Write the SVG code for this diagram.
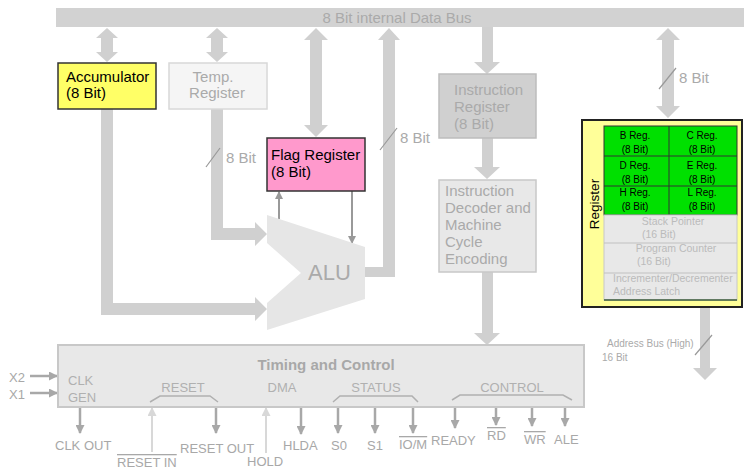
<svg xmlns="http://www.w3.org/2000/svg" width="744" height="471" viewBox="0 0 744 471">
<style>
text{font-family:"Liberation Sans",Arial,sans-serif}
.fat{fill:#d0d0d0}
.lbl{fill:#aaaaaa;font-size:15px}
.blk{fill:#000;font-size:15px}
.in{fill:#b0b0b0;font-size:13px}
.out{fill:#a8a8a8;font-size:13px}
.cell{fill:#000;font-size:10px;text-anchor:middle}
.gcell{fill:#bbbbbb;font-size:10.5px}
.sl{stroke:#999;stroke-width:1.2}
.oa{stroke:#a8a8a8;stroke-width:2.5;fill:none;marker-end:url(#ah)}
.ia{stroke:#d8d8d8;stroke-width:2;fill:none;marker-end:url(#ahl)}
.br{stroke:#b0b0b0;stroke-width:1.5;fill:none}
</style>
<defs>
<marker id="ah" markerUnits="userSpaceOnUse" markerWidth="9" markerHeight="9" refX="8" refY="4.5" orient="auto"><path d="M0,0 L9,4.5 L0,9 z" fill="#a8a8a8"/></marker>
<marker id="ahl" markerUnits="userSpaceOnUse" markerWidth="9" markerHeight="9" refX="8" refY="4.5" orient="auto"><path d="M0,0 L9,4.5 L0,9 z" fill="#d8d8d8"/></marker>
<marker id="ahf" markerUnits="userSpaceOnUse" markerWidth="8" markerHeight="8" refX="7" refY="4" orient="auto"><path d="M0,0 L8,4 L0,8 z" fill="#999"/></marker>
</defs>
<rect width="744" height="471" fill="#fff"/>

<g id="databus">
<rect x="56" y="8" width="688" height="19" fill="#d2d2d2"/>
<text x="397" y="23" class="lbl" text-anchor="middle" fill="#bcbcbc">8 Bit internal Data Bus</text>
</g>

<g id="connectors">
<polygon class="fat" points="107,28 118,38 113,38 113,52 118,52 107,62 96,52 101,52 101,38 96,38"/>
<polygon class="fat" points="217,28 228,38 223,38 223,52 228,52 217,62 206,52 211,52 211,38 206,38"/>
<polygon class="fat" points="316,28 328,40 322,40 322,125 328,125 316,137 304,125 310,125 310,40 304,40"/>
<polygon class="fat" points="668,28 680,40 674,40 674,106 680,106 668,118 656,106 662,106 662,40 656,40"/>
<polygon class="fat" points="365,267 383,267 383,40 378,40 389,28 400,40 395,40 395,277 365,277"/>
<polygon class="fat" points="482,27 493,27 493,62 500,62 487,74 474,62 482,62"/>
<polygon class="fat" points="482,138 493,138 493,167 500,167 487,179 474,167 482,167"/>
<polygon class="fat" points="482,272 493,272 493,333 500,333 487,345 474,333 482,333"/>
<polygon class="fat" points="211,109 223,109 223,228 255,228 255,222 267,234 255,246 255,240 211,240"/>
<polygon class="fat" points="101,109 113,109 113,303 255,303 255,297 267,309 255,321 255,315 101,315"/>
<polygon class="fat" points="700,307 710,307 710,368 717,368 705,380 693,368 700,368"/>
<line class="sl" x1="206" y1="167" x2="220" y2="148"/>
<text x="226" y="163" class="lbl">8 Bit</text>
<line class="sl" x1="380" y1="150" x2="397" y2="128"/>
<text x="400" y="143" class="lbl">8 Bit</text>
<line class="sl" x1="659" y1="89" x2="676" y2="68"/>
<text x="679" y="83" class="lbl">8 Bit</text>
<line class="sl" x1="695" y1="355" x2="712" y2="335"/>
<text x="607" y="347" fill="#aaaaaa" font-size="10">Address Bus (High)</text>
<text x="602" y="361" fill="#aaaaaa" font-size="10">16 Bit</text>
<line x1="279" y1="219" x2="279" y2="192" stroke="#999" stroke-width="2" marker-end="url(#ahf)"/>
<line x1="352" y1="191" x2="352" y2="243" stroke="#999" stroke-width="2" marker-end="url(#ahf)"/>
<line class="oa" x1="30" y1="376" x2="57" y2="376"/>
<line class="oa" x1="30" y1="393" x2="57" y2="393"/>
<line class="oa" x1="80" y1="408" x2="80" y2="433"/>
<line class="oa" x1="216" y1="408" x2="216" y2="433"/>
<line class="oa" x1="301" y1="408" x2="301" y2="434"/>
<line class="oa" x1="338" y1="408" x2="338" y2="433"/>
<line class="oa" x1="375" y1="408" x2="375" y2="433"/>
<line class="oa" x1="413" y1="408" x2="413" y2="433"/>
<line class="oa" x1="455" y1="408" x2="455" y2="428"/>
<line class="oa" x1="496" y1="408" x2="496" y2="425"/>
<line class="oa" x1="532" y1="408" x2="532" y2="426"/>
<line class="oa" x1="565" y1="408" x2="565" y2="426"/>
<line class="ia" x1="152" y1="452" x2="152" y2="408"/>
<line class="ia" x1="266" y1="453" x2="266" y2="408"/>
</g>

<g id="accumulator">
<rect x="58" y="63" width="98" height="46" fill="#ffff66" stroke="#333" stroke-width="1.5"/>
<text x="66" y="82" class="blk">Accumulator</text>
<text x="66" y="98" class="blk">(8 Bit)</text>
</g>

<g id="temp">
<rect x="169" y="63" width="98" height="46" fill="#f5f5f5" stroke="#d8d8d8" stroke-width="1.5"/>
<text x="213" y="82" class="lbl" fill="#b8b8b8" text-anchor="middle">Temp.</text>
<text x="217" y="98" class="lbl" fill="#b8b8b8" text-anchor="middle">Register</text>
</g>

<g id="flag">
<rect x="267" y="138" width="98" height="53" fill="#ff99cc" stroke="#333" stroke-width="1.5"/>
<text x="271" y="160" class="blk">Flag Register</text>
<text x="271" y="177" class="blk">(8 Bit)</text>
</g>

<g id="alu">
<polygon points="267,215 365,247 365,299 267,330 267,303 301,273 267,243" fill="#e6e6e6"/>
<text x="308" y="280" fill="#aaaaaa" font-size="22">ALU</text>
</g>

<g id="ir">
<rect x="439" y="74" width="97" height="64" fill="#d0d0d0" stroke="#bdbdbd" stroke-width="1.5"/>
<text x="454" y="95" class="lbl" fill="#b3b3b3">Instruction</text>
<text x="454" y="112" class="lbl" fill="#b3b3b3">Register</text>
<text x="454" y="129" class="lbl" fill="#b3b3b3">(8 Bit)</text>
</g>

<g id="decoder">
<rect x="439" y="180" width="97" height="92" fill="#e8e8e8" stroke="#c8c8c8" stroke-width="1.5"/>
<text x="445" y="196" class="lbl" fill="#b8b8b8">Instruction</text>
<text x="445" y="213" class="lbl" fill="#b8b8b8">Decoder and</text>
<text x="445" y="230" class="lbl" fill="#b8b8b8">Machine</text>
<text x="445" y="247" class="lbl" fill="#b8b8b8">Cycle</text>
<text x="445" y="264" class="lbl" fill="#b8b8b8">Encoding</text>
</g>

<g id="timing">
<rect x="58" y="345" width="526" height="62" fill="#e8e8e8" stroke="#c8c8c8" stroke-width="2"/>
<text x="326" y="370" fill="#a8a8a8" font-size="15" font-weight="bold" text-anchor="middle">Timing and Control</text>
<text x="68" y="385" class="in">CLK</text>
<text x="68" y="402" class="in">GEN</text>
<text x="183" y="392" class="in" text-anchor="middle">RESET</text>
<text x="282" y="392" class="in" text-anchor="middle">DMA</text>
<text x="376" y="392" class="in" text-anchor="middle">STATUS</text>
<text x="512" y="392" class="in" text-anchor="middle">CONTROL</text>
<polyline class="br" points="150,402 160,396 210,396 218,402"/>
<polyline class="br" points="333,402 340,396 412,396 418,402"/>
<polyline class="br" points="452,400 460,395 563,395 572,400"/>
<text x="9" y="382" class="out">X2</text>
<text x="9" y="399" class="out">X1</text>
<text x="55" y="450" class="out">CLK OUT</text>
<text x="117" y="467" class="out" text-decoration="overline">RESET IN</text>
<text x="180" y="453" class="out">RESET OUT</text>
<text x="247" y="466" class="out">HOLD</text>
<text x="283" y="450" class="out">HLDA</text>
<text x="331" y="450" class="out">S0</text>
<text x="367" y="450" class="out">S1</text>
<text x="399" y="449" class="out" text-decoration="overline">IO/M</text>
<text x="431" y="445" class="out">READY</text>
<text x="487" y="440" class="out" text-decoration="overline">RD</text>
<text x="524" y="444" class="out" text-decoration="overline">WR</text>
<text x="554" y="444" class="out">ALE</text>
</g>

<g id="register">
<rect x="582" y="120" width="160" height="187" fill="#ffff99" stroke="#222" stroke-width="2"/>
<text transform="translate(599,204) rotate(-90)" fill="#000" font-size="13.5" text-anchor="middle">Register</text>
<rect x="604" y="126" width="133" height="89" fill="#00e000" stroke="#333" stroke-width="1"/>
<line x1="669" y1="126" x2="669" y2="215" stroke="#333"/>
<line x1="604" y1="156" x2="737" y2="156" stroke="#333"/>
<line x1="604" y1="186" x2="737" y2="186" stroke="#333"/>
<text x="635" y="139" class="cell">B Reg.</text>
<text x="635" y="153" class="cell">(8 Bit)</text>
<text x="702" y="139" class="cell">C Reg.</text>
<text x="702" y="153" class="cell">(8 Bit)</text>
<text x="635" y="169" class="cell">D Reg.</text>
<text x="635" y="183" class="cell">(8 Bit)</text>
<text x="702" y="169" class="cell">E Reg.</text>
<text x="702" y="183" class="cell">(8 Bit)</text>
<text x="635" y="196" class="cell">H Reg.</text>
<text x="635" y="210" class="cell">(8 Bit)</text>
<text x="702" y="196" class="cell">L Reg.</text>
<text x="702" y="210" class="cell">(8 Bit)</text>
<rect x="604" y="215" width="133" height="85" fill="#e8e8e8" stroke="#c8c8c8"/>
<line x1="604" y1="243" x2="737" y2="243" stroke="#c0c0c0"/>
<line x1="604" y1="273" x2="737" y2="273" stroke="#c0c0c0"/>
<line x1="604" y1="300" x2="737" y2="300" stroke="#3a5a3a" stroke-width="1.5"/>
<text x="673" y="225" class="gcell" text-anchor="middle">Stack Pointer</text>
<text x="642" y="238" class="gcell">(16 Bit)</text>
<text x="676" y="252" class="gcell" text-anchor="middle">Program Counter</text>
<text x="637" y="265" class="gcell">(16 Bit)</text>
<text x="613" y="282" class="gcell">Incrementer/Decrementer</text>
<text x="613" y="295" class="gcell">Address Latch</text>
</g>
</svg>
